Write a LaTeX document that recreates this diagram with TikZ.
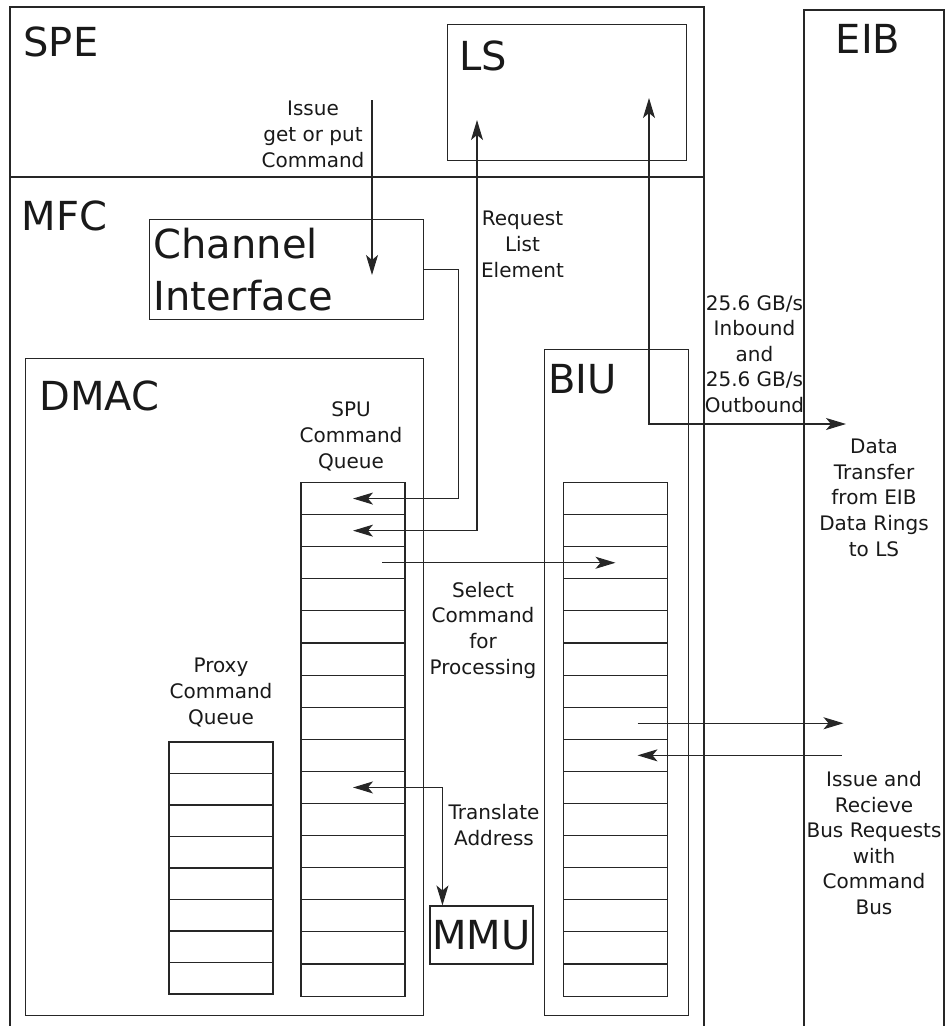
\documentclass[tikz,border=0pt]{standalone}
\usepackage{fontspec}
\setmainfont{DejaVu Sans}
\usetikzlibrary{positioning, calc}
\usetikzlibrary{arrows.meta}

\tikzset{
	box/.style={draw, rectangle, inner sep=0pt, anchor=north west},
	cell/.style={draw, rectangle, inner sep=0pt, minimum width=104pt, minimum height=32.1pt},
	big/.style={font=\fontsize{40}{52}\selectfont, inner sep=0pt},
	small/.style={font=\fontsize{20}{25.6}\selectfont, inner sep=0pt, align=center, anchor=base},
	arr/.style={-{Stealth[length=20pt, width=12pt, inset=5pt]}},
	dblarr/.style={{Stealth[length=20pt, width=12pt, inset=5pt]}-{Stealth[length=20pt, width=12pt, inset=5pt]}}
}

\begin{document}
\begin{tikzpicture}[x=1pt, y=-1pt, line width=1.1pt, draw=black!85, text=black!90]
				\useasboundingbox (0,0) rectangle (945,1026);
				\draw (10,1026) -- (10,7) -- (704,7) -- (704,1026);
				\draw (10,177) -- (704,177);
				\draw (804,1026) -- (804,10) -- (944,10) -- (944,1026);
				\node[box, minimum width=239pt, minimum height=136pt] (ls) at (447,24) {};
				\node[box, minimum width=274pt, minimum height=100pt] (ci) at (149,219) {};
				\node[box, minimum width=398pt, minimum height=657pt] (dmac) at (25,358) {};
				\node[box, minimum width=144pt, minimum height=666pt] (biu) at (544,349) {};
				\node[draw, inner sep=0pt, minimum width=103pt, minimum height=58pt, big] (mmu) at (481.5,935) {MMU};
				\node[big, anchor=base west] (spelabel) at (23,56) {SPE};
				\node[big, anchor=base west] (lslabel) at (459,70) {LS};
				\node[big, anchor=base] (eiblabel) at (868,53) {EIB};
				\node[big, anchor=base west] (mfclabel) at (21,230) {MFC};
				\node[big, anchor=base west, align=left] (cilabel) at (153,310) {Channel\\Interface};
				\node[big, anchor=base west] (dmaclabel) at (39,410) {DMAC};
				\node[big, anchor=base west] (biulabel) at (548,393) {BIU};
				\foreach \i in {0,...,15} {
					\node[cell] (spu\i) at (353,{498.55+32.1*\i}) {};
					\node[cell] (biu\i) at (615.5,{498.55+32.1*\i}) {};
				}
				\foreach \i in {0,...,7}
					\node[cell, minimum height=31.5pt] (proxy\i) at (221,{757.75+31.5*\i}) {};
				\node[small] (issuetext) at (313,167) {Issue\\get or put\\Command};
				\node[small] (reqtext) at (522.5,277) {Request\\List\\Element};
				\node[small] (ratetext) at (754.5,412.5) {25.6 GB/s\\Inbound\\and\\25.6 GB/s\\Outbound};
				\node[small] (datatext) at (874,556) {Data\\Transfer\\from EIB\\Data Rings\\to LS};
				\node[small] (spuqtext) at (351,468) {SPU\\Command\\Queue};
				\node[small] (selecttext) at (483,674) {Select\\Command\\for\\Processing};
				\node[small] (proxytext) at (221,724) {Proxy\\Command\\Queue};
				\node[small] (transtext) at (494,845.5) {Translate\\Address};
				\node[small] (bustext) at (874,914.5) {Issue and\\Recieve\\Bus Requests\\with\\Command\\Bus};
				\coordinate (issuetop) at (372,100);
				\coordinate (issuetip) at (372,275);
				\coordinate (lsreq) at (477,120);
				\coordinate (lsin) at (649,98);
				\coordinate (eibin) at (846,424);
				\coordinate (eibout) at ($(biu7.center)+(228,0)$);
				\coordinate (eibreq) at ($(biu8.center)+(226,0)$);
				\coordinate (mmutop) at ([xshift=13pt]mmu.north west);
				\draw[arr] (issuetop) -- (issuetip);
				\draw[arr] (ci.east) -- ++(34,0) |- (spu0.center);
				\draw[dblarr] (spu1.center) -| (lsreq);
				\draw[dblarr] (lsin) |- (eibin);
				\draw[arr] ($(spu2.center)+(29,0)$) -- (biu2.center);
				\draw[arr] ($(biu7.center)+(22,0)$) -- (eibout);
				\draw[arr] (eibreq) -- ($(biu8.center)+(22,0)$);
				\draw[dblarr] (spu9.center) -| (mmutop);
			\end{tikzpicture}
\end{document}
